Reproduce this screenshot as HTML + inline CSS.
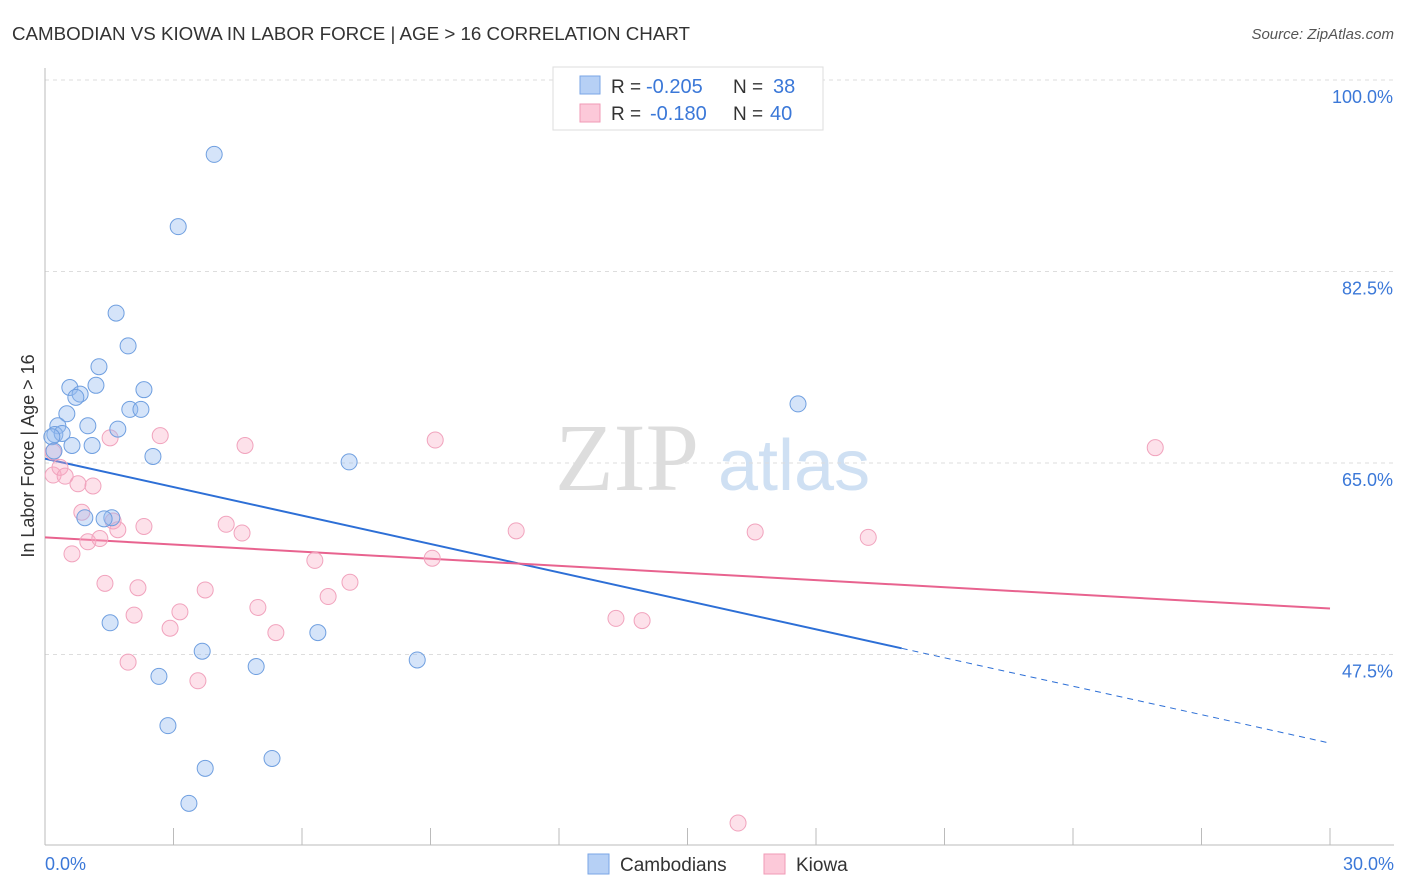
<!DOCTYPE html>
<html><head><meta charset="utf-8"><style>
body{margin:0;background:#fff;font-family:"Liberation Sans",sans-serif;}
svg{display:block}
</style></head><body>
<svg id="chart" width="1406" height="892">
<text x="12" y="40" font-size="18" fill="#333" textLength="678" lengthAdjust="spacingAndGlyphs">CAMBODIAN VS KIOWA IN LABOR FORCE | AGE &gt; 16 CORRELATION CHART</text>
<text x="1394" y="39" font-size="15" fill="#555" text-anchor="end" font-style="italic">Source: ZipAtlas.com</text>
<g>
<text x="555" y="490" font-size="96" fill="#ddd" font-family="Liberation Serif,serif">ZIP</text>
<text x="718" y="490" font-size="72" fill="#cfe0f3">atlas</text>
</g>
<g id="grid"></g><g id="axes"></g><g id="trends"></g><g id="points"></g>
<text transform="translate(34,456) rotate(-90)" font-size="18" fill="#333" text-anchor="middle">In Labor Force | Age &gt; 16</text>
<text x="45" y="870" font-size="18" fill="#3b78d8">0.0%</text>
<text x="1394" y="870" font-size="18" fill="#3b78d8" text-anchor="end">30.0%</text>
<g>
<rect x="553" y="67" width="270" height="63" fill="#fff" stroke="#ddd"/>
<rect x="580" y="76" width="20" height="18" fill="#b6d0f5" stroke="#7aa6e6"/>
<rect x="580" y="104" width="20" height="18" fill="#fcc9d9" stroke="#f09ab6"/>
<text x="611" y="93" font-size="19" fill="#333">R =</text>
<text x="646" y="93" font-size="20" fill="#3b78d8">-0.205</text>
<text x="733" y="93" font-size="19" fill="#333">N =</text>
<text x="773" y="93" font-size="20" fill="#3b78d8">38</text>
<text x="611" y="120" font-size="19" fill="#333">R =</text>
<text x="650" y="120" font-size="20" fill="#3b78d8">-0.180</text>
<text x="733" y="120" font-size="19" fill="#333">N =</text>
<text x="770" y="120" font-size="20" fill="#3b78d8">40</text>
</g>
<g>
<rect x="588" y="854" width="21" height="20" fill="#b6d0f5" stroke="#7aa6e6"/>
<text x="620" y="871" font-size="19" fill="#333">Cambodians</text>
<rect x="764" y="854" width="21" height="20" fill="#fcc9d9" stroke="#f09ab6"/>
<text x="796" y="871" font-size="19" fill="#333">Kiowa</text>
</g>
</svg>
<script>
const yTicks=[100,82.5,65,47.5];
const yTickLabels=["100.0%","82.5%","65.0%","47.5%"];
const xTicks=[0,3,6,9,12,15,18,21,24,27,30];
const blueX=[3.95,3.11,1.66,1.94,1.26,0.58,1.19,0.82,0.72,2.31,1.98,2.24,0.51,1.00,1.70,0.30,0.23,0.40,0.16,0.63,1.10,2.52,7.10,17.58,0.93,1.56,1.38,1.52,6.37,3.67,4.93,8.69,2.66,2.87,3.74,5.30,3.36,0.21];
const blueY=[93.2,86.6,78.7,75.7,73.8,71.9,72.1,71.3,71.0,71.7,69.9,69.9,69.5,68.4,68.1,68.4,67.6,67.7,67.4,66.6,66.6,65.6,65.1,70.4,60.0,60.0,59.9,50.4,49.5,47.8,46.4,47.0,45.5,41.0,37.1,38.0,33.9,66.1];
const pinkX=[0.19,0.19,0.35,0.47,0.77,1.12,0.86,0.63,1.00,1.28,1.59,1.70,2.31,1.40,2.17,1.52,2.69,4.67,9.11,25.92,4.23,4.60,11.0,16.58,19.22,2.08,3.15,3.74,2.92,6.30,7.12,6.61,4.97,5.39,9.04,13.33,13.94,1.94,3.57,16.18];
const pinkY=[66.0,63.9,64.6,63.8,63.1,62.9,60.5,56.7,57.8,58.1,59.7,58.9,59.2,54.0,53.6,67.3,67.5,66.6,67.1,66.4,59.4,58.6,58.8,58.7,58.2,51.1,51.4,53.4,49.9,56.1,54.1,52.8,51.8,49.5,56.3,50.8,50.6,46.8,45.1,32.1];
const blueTrend=[65.4,39.4];
const blueSolidEnd=20;
const pinkTrend=[58.2,51.7];
const NS="http://www.w3.org/2000/svg";
const sx=v=>45+v*(1285/30);
const sy=v=>80+(100-v)*10.943;
function mk(parent,tag,attrs){const e=document.createElementNS(NS,tag);for(const k in attrs)e.setAttribute(k,attrs[k]);document.getElementById(parent).appendChild(e);return e;}
yTicks.forEach((t,i)=>{
 const l=mk('grid','line',{x1:45,x2:1394,y1:sy(t),y2:sy(t),stroke:'#ddd','stroke-dasharray':'4,4'});
 
 
 const tx=mk('grid','text',{x:1393,y:sy(t)+23,'font-size':18,fill:'#3b78d8','text-anchor':'end'});
 tx.textContent=yTickLabels[i];
 
 
});
const ax=mk('axes','line',{x1:45,x2:45,y1:68,y2:845,stroke:'#bbb'});


const bx=mk('axes','line',{x1:45,x2:1394,y1:845,y2:845,stroke:'#bbb'});


xTicks.forEach(t=>{
 if(t===0)return;
 const l=mk('axes','line',{x1:sx(t),x2:sx(t),y1:828,y2:845,stroke:'#bbb'});
 
 
});
const by=x=>blueTrend[0]+(blueTrend[1]-blueTrend[0])*x/30;
const b1=mk('trends','line',{x1:sx(0),y1:sy(by(0)),x2:sx(blueSolidEnd),y2:sy(by(blueSolidEnd)),stroke:'#2d6fd6','stroke-width':2});


const b2=mk('trends','line',{x1:sx(blueSolidEnd),y1:sy(by(blueSolidEnd)),x2:sx(30),y2:sy(by(30)),stroke:'#2d6fd6','stroke-width':1,'stroke-dasharray':'6,5'});


const p1=mk('trends','line',{x1:sx(0),y1:sy(pinkTrend[0]),x2:sx(30),y2:sy(pinkTrend[1]),stroke:'#e8638f','stroke-width':2});


pinkX.forEach((x,i)=>{
 const c=mk('points','circle',{cx:sx(x),cy:sy(pinkY[i]),r:8,fill:'rgba(248,170,196,0.35)',stroke:'#f1a3bd','stroke-width':1});
 
 
});
blueX.forEach((x,i)=>{
 const c=mk('points','circle',{cx:sx(x),cy:sy(blueY[i]),r:8,fill:'rgba(150,188,240,0.4)',stroke:'#6f9fe0','stroke-width':1});
 
 
});
</script>
</body></html>
